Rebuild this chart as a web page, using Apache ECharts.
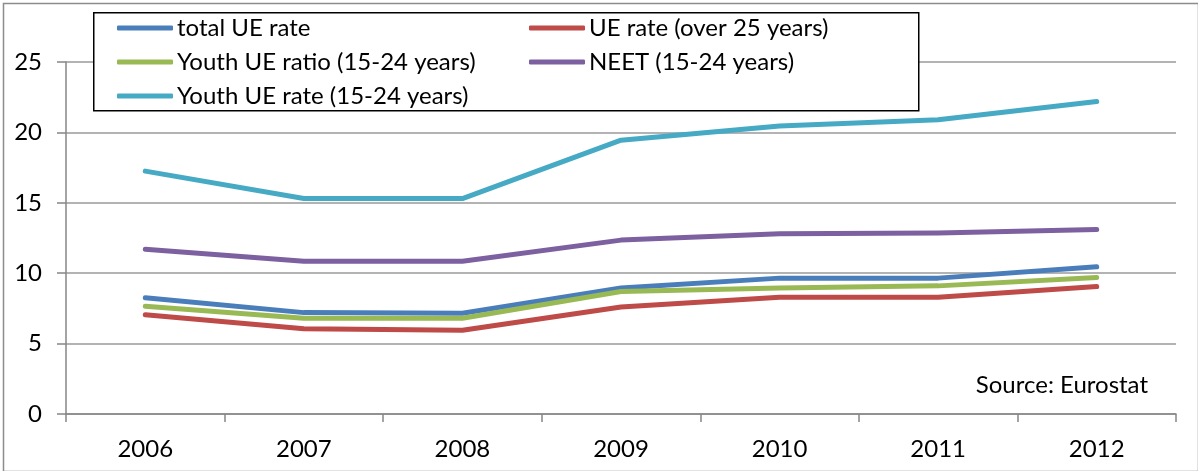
<!DOCTYPE html>
<html lang="en">
<head>
  <meta charset="UTF-8">
  <title>Unemployment rates</title>
  <script src="https://cdn.jsdelivr.net/npm/echarts@6/dist/echarts.min.js"></script>
  <style>
    html, body { margin: 0; padding: 0; background: #fff; }
    #main { width: 1198px; height: 471px; }
  </style>
</head>
<body>
  <div id="main"></div>
  <script>
  // data
  const years = ['2006', '2007', '2008', '2009', '2010', '2011', '2012'];
  const totalUE = [8.25, 7.2, 7.15, 8.95, 9.65, 9.65, 10.45];
  const ueOver25 = [7.05, 6.05, 5.95, 7.6, 8.3, 8.3, 9.05];
  const youthRatio = [7.65, 6.8, 6.8, 8.7, 8.95, 9.1, 9.7];
  const neet = [11.7, 10.85, 10.85, 12.35, 12.8, 12.85, 13.1];
  const youthRate = [17.25, 15.3, 15.3, 19.45, 20.45, 20.9, 22.2];

  const font = 'Lato, "Noto Sans", sans-serif';
  const chart = echarts.init(document.getElementById('main'));

  function line(name, data, color) {
    return {
      name: name,
      type: 'line',
      data: data,
      symbol: 'none',
      smooth: false,
      lineStyle: { color: color, width: 5, cap: 'round', join: 'round' },
      itemStyle: { color: color }
    };
  }

  const legendBase = {
    orient: 'vertical',
    top: 11,
    padding: 0,
    icon: 'roundRect',
    itemWidth: 56,
    itemHeight: 5,
    itemGap: 0,
    z: 20,
    textStyle: { fontFamily: font, fontSize: 24, color: '#000', lineHeight: 34, padding: [0, 0, 0, -1] }
  };

  chart.setOption({
    animation: false,
    grid: { left: 66, right: 22, top: 62, bottom: 57 },
    legend: [
      Object.assign({}, legendBase, { left: 117, data: ['total UE rate', 'Youth UE ratio (15-24 years)', 'Youth UE rate (15-24 years)'] }),
      Object.assign({}, legendBase, { left: 529, data: ['UE rate (over 25 years)', 'NEET (15-24 years)'] })
    ],
    graphic: [
      { type: 'rect', left: 1, top: 1, z: 0, silent: true,
        shape: { width: 1195, height: 468 },
        style: { fill: 'none', stroke: '#8c8c8c', lineWidth: 1.5 } },
      { type: 'rect', left: 93, top: 12, z: 10, silent: true,
        shape: { width: 825, height: 98 },
        style: { fill: '#fff', stroke: '#000', lineWidth: 1.5 } },
      { type: 'text', right: 50, top: 373, z: 10, silent: true,
        style: { text: 'Source: Eurostat', fontFamily: font, fontSize: 24, fill: '#000' } }
    ],
    xAxis: {
      type: 'category',
      data: years,
      boundaryGap: true,
      axisLine: { lineStyle: { color: '#868686', width: 1.5 } },
      axisTick: { show: true, length: 8, interval: 0, lineStyle: { color: '#868686', width: 1.5 } },
      axisLabel: { fontFamily: font, fontSize: 24, color: '#000', margin: 23 }
    },
    yAxis: {
      type: 'value',
      min: 0,
      max: 25,
      interval: 5,
      axisLine: { show: true, lineStyle: { color: '#868686', width: 1.5 } },
      axisTick: { show: true, length: 9, lineStyle: { color: '#868686', width: 1.5 } },
      axisLabel: { fontFamily: font, fontSize: 24, color: '#000', margin: 24 },
      splitLine: { lineStyle: { color: '#9a9a9a', width: 1.5 } }
    },
    series: [
      line('total UE rate', totalUE, '#4a7ebb'),
      line('UE rate (over 25 years)', ueOver25, '#be4b48'),
      line('Youth UE ratio (15-24 years)', youthRatio, '#98b954'),
      line('NEET (15-24 years)', neet, '#7d60a0'),
      line('Youth UE rate (15-24 years)', youthRate, '#46aac5')
    ]
  });
  </script>
</body>
</html>
